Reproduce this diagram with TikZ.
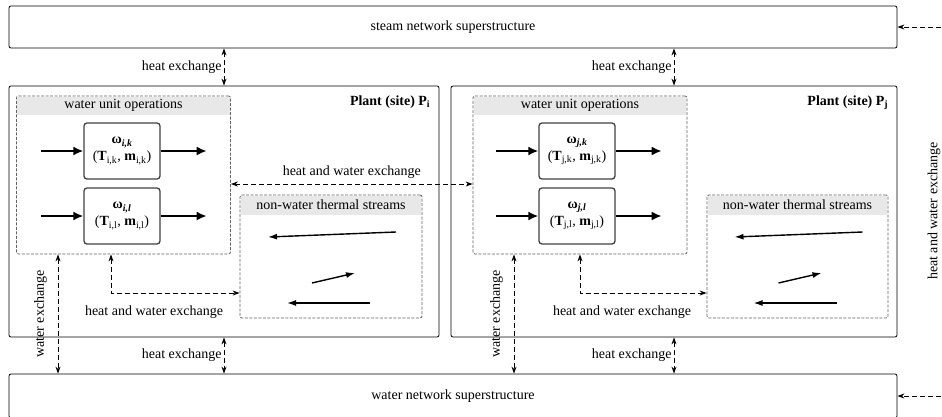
\documentclass[tikz,border=0pt]{standalone}
\usepackage{fontspec}
\setmainfont{Liberation Serif}
\usepackage{tikz}
\usetikzlibrary{arrows.meta, positioning, calc}
\definecolor{hdrgray}{rgb}{0.91,0.91,0.91}
\definecolor{dashgray}{rgb}{0.38,0.38,0.38}
\definecolor{unitgray}{rgb}{0.25,0.25,0.25}
\tikzstyle{stream} = [line width=1.9pt, -{Latex[length=10pt,width=9pt]}]
\tikzstyle{thermal} = [line width=1.4pt, -{Latex[length=9pt,width=6pt]}]
\tikzstyle{xchange} = [line width=0.9pt, dash pattern=on 5pt off 3pt, {Stealth[length=7pt,width=5pt]}-{Stealth[length=7pt,width=5pt]}]
\tikzstyle{xfeed} = [line width=0.9pt, dash pattern=on 5pt off 3pt, -{Stealth[length=7pt,width=5pt]}]
\tikzstyle{superbox} = [rectangle, rounded corners=2pt, draw=black, line width=0.8pt, inner sep=0pt, minimum width=888pt]
\tikzstyle{plant} = [rectangle, rounded corners=2pt, draw=black, line width=0.8pt, inner sep=0pt, minimum height=251pt]
\tikzstyle{groupbox} = [rectangle, rounded corners=2pt, draw=dashgray, dash pattern=on 3pt off 1.5pt, line width=0.8pt, inner sep=0pt]
\tikzstyle{header} = [rectangle, fill=hdrgray, inner sep=0pt, minimum height=18pt, anchor=north]
\tikzstyle{unitop} = [rectangle, rounded corners=3pt, draw=unitgray, line width=1.3pt, minimum width=76pt, minimum height=56pt, inner sep=0pt, align=center]
\newcommand\wsub[1]{\textsubscript{\textbf{\textit{#1}}}}

\begin{document}
\begin{tikzpicture}[x=1pt, y=-1pt, font=\fontsize{14}{17}\selectfont]
\useasboundingbox (0,0) rectangle (942,416);
%----------------------------------------------------------------------------
% Superstructures and plants
\node (steam) [superbox, minimum height=42pt] at (453,27) {steam network superstructure};
\node (water) [superbox, minimum height=44pt] at (453,396) {water network superstructure};

\node (plantI) [plant, minimum width=430pt] at (224,211.5) {};
\node (plantJ) [plant, minimum width=446pt] at (674,211.5) {};
\node (lblPI) [anchor=north east, inner sep=0pt] at ([xshift=-9pt,yshift=-10pt]plantI.north east) {\textbf{Plant (site) P\textsubscript{i}}};
\node (lblPJ) [anchor=north east, inner sep=0pt] at ([xshift=-9pt,yshift=-10pt]plantJ.north east) {\textbf{Plant (site) P\textsubscript{j}}};

%----------------------------------------------------------------------------
% Water unit operations
\node (wuoI) [groupbox, minimum width=214pt, minimum height=158pt] at (123.5,175) {};
\node (wuoIhead) [header, minimum width=212.5pt] at ([yshift=-0.8pt]wuoI.north) {water unit operations};
\node (wuoJ) [groupbox, minimum width=214pt, minimum height=158pt] at (580,175) {};
\node (wuoJhead) [header, minimum width=212.5pt] at ([yshift=-0.8pt]wuoJ.north) {water unit operations};

\node (uIk) [unitop] at (122,151) {\textbf{ω}\wsub{i,k}\\(\textbf{T}\textsubscript{i,k}, \textbf{m}\textsubscript{i,k})};
\node (uIl) [unitop] at (122,216) {\textbf{ω}\wsub{i,l}\\(\textbf{T}\textsubscript{i,l}, \textbf{m}\textsubscript{i,l})};
\node (uJk) [unitop] at (577,151) {\textbf{ω}\wsub{j,k}\\(\textbf{T}\textsubscript{j,k}, \textbf{m}\textsubscript{j,k})};
\node (uJl) [unitop] at (577,216) {\textbf{ω}\wsub{j,l}\\(\textbf{T}\textsubscript{j,l}, \textbf{m}\textsubscript{j,l})};

%----------------------------------------------------------------------------
% Non-water thermal streams
\node (nwI) [groupbox, minimum width=182pt, minimum height=123pt] at (331,256.5) {};
\node (nwIhead) [header, minimum width=180.5pt, minimum height=19pt] at ([yshift=-0.8pt]nwI.north) {non-water thermal streams};
\node (nwJ) [groupbox, minimum width=181pt, minimum height=123pt] at (797.5,256.5) {};
\node (nwJhead) [header, minimum width=179.5pt, minimum height=19pt] at ([yshift=-0.8pt]nwJ.north) {non-water thermal streams};

%----------------------------------------------------------------------------
% Streams
\foreach \u in {uIk,uIl,uJk,uJl}{
  \draw [stream] ([xshift=-42pt]\u.west) -- (\u.west);
  \draw [stream] (\u.east) -- ([xshift=46pt]\u.east);
}
\foreach \n in {nwI,nwJ}{
  \draw [thermal] ($(\n)+(65,-24.5)$) -- ($(\n)+(-63,-19.5)$);
  \draw [thermal] ($(\n)+(-19,26.5)$) -- ($(\n)+(24,16.5)$);
  \draw [thermal] ($(\n)+(39,46.5)$) -- ($(\n)+(-44,46.5)$);
}

%----------------------------------------------------------------------------
% Exchange lines
\draw [xchange] (plantI.north) -- node[left, inner sep=2pt] {heat exchange} (plantI.north |- steam.south);
\draw [xchange] (plantJ.north) -- node[left, inner sep=2pt] {heat exchange} (plantJ.north |- steam.south);
\draw [xchange] (plantI.south) -- node[left, inner sep=2pt] {heat exchange} (plantI.south |- water.north);
\draw [xchange] (plantJ.south) -- node[left, inner sep=2pt] {heat exchange} (plantJ.south |- water.north);

\draw [xchange] ([yshift=-9pt]wuoI.east) -- node[above, inner sep=5pt] {heat and water exchange} ([yshift=-9pt]wuoJ.west);

\draw [xchange] ([xshift=-65.5pt]wuoI.south) -- node[xshift=-17.5pt, rotate=90] {water exchange} ([xshift=-65.5pt]wuoI.south |- water.north);
\draw [xchange] ([xshift=-66pt]wuoJ.south) -- node[xshift=-17.5pt, rotate=90] {water exchange} ([xshift=-66pt]wuoJ.south |- water.north);

\draw [xchange] ([xshift=-12.5pt]wuoI.south) |- ([yshift=-36.5pt]nwI.west);
\draw [xchange] (wuoJ.south) |- ([yshift=-36.5pt]nwJ.west);
\node (hwxI) at (154,312) {heat and water exchange};
\node (hwxJ) at (622,312) {heat and water exchange};

%----------------------------------------------------------------------------
% Off picture links
\draw [xfeed] ([xshift=44pt]steam.east) -- (steam.east);
\draw [xfeed] ([xshift=44pt]water.east) -- (water.east);
\node (hwxSide) [rotate=90] at (934,211) {heat and water exchange};
\end{tikzpicture}
\end{document}
